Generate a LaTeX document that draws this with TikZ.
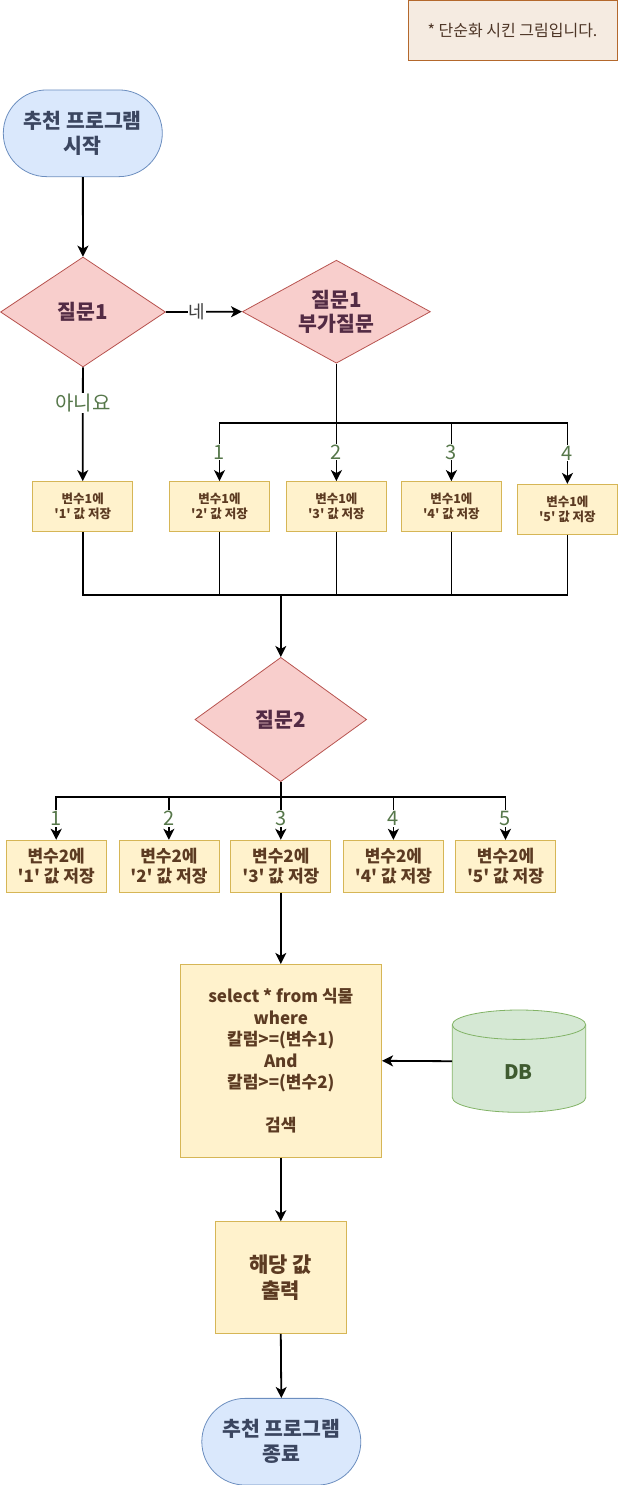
\documentclass[tikz,border=0pt]{standalone}
\usepackage{fontspec}
\newfontfamily\kr{Noto Sans CJK KR}
\usetikzlibrary{shapes.geometric,shapes.misc,arrows.meta}
\definecolor{termfill}{HTML}{DAE8FC}
\definecolor{termline}{HTML}{6C8EBF}
\definecolor{termtext}{HTML}{3B4660}
\definecolor{decfill}{HTML}{F8CECC}
\definecolor{decline}{HTML}{B85450}
\definecolor{dectext}{HTML}{532B44}
\definecolor{procfill}{HTML}{FFF2CC}
\definecolor{procline}{HTML}{D6B656}
\definecolor{proctext}{HTML}{5C3B22}
\definecolor{dbfill}{HTML}{D5E8D4}
\definecolor{dbline}{HTML}{82B366}
\definecolor{dbtext}{HTML}{3F5B30}
\definecolor{notefill}{HTML}{F5EBE1}
\definecolor{noteline}{HTML}{B4682C}
\definecolor{notetext}{HTML}{4D3526}
\definecolor{labgreen}{HTML}{56774A}
\definecolor{labgray}{HTML}{404040}
\begin{document}
\begin{tikzpicture}[x=1pt,y=-1pt,
  term/.style={rounded rectangle, draw=termline, fill=termfill, line width=0.8pt, text=termtext,
    font=\kr\bfseries\fontsize{20.5}{25}\selectfont, align=center, inner sep=0pt,
    minimum width=159pt, minimum height=86.7pt},
  dec/.style={diamond, draw=decline, fill=decfill, line width=0.8pt, text=dectext,
    font=\kr\bfseries\fontsize{20.5}{23.5}\selectfont, align=center, inner sep=0pt},
  proc/.style={rectangle, draw=procline, fill=procfill, line width=0.8pt, text=proctext,
    align=center, inner sep=0pt},
  smallbox/.style={proc, minimum width=100pt, minimum height=50pt,
    font=\kr\bfseries\fontsize{12.5}{15.5}\selectfont},
  midbox/.style={proc, minimum width=100pt, minimum height=52pt,
    font=\kr\bfseries\fontsize{17}{20.5}\selectfont},
  conn/.style={line width=1.8pt, draw=black},
  arr/.style={conn, -{Stealth[length=11pt,width=11pt,inset=3pt]}},
  lab/.style={fill=white, text=labgreen, font=\kr\fontsize{20}{22}\selectfont, inner sep=1pt}
]
\useasboundingbox (0,0) rectangle (618,1485);

% note
\node[draw=noteline, fill=notefill, line width=0.8pt, text=notetext, inner sep=0pt,
  minimum width=209pt, minimum height=60.7pt, font=\kr\fontsize{16}{18}\selectfont]
  (note) at (512.5,30.3) {* 단순화 시킨 그림입니다.};

% start
\node[term] (start) at (82.8,133.3) {추천 프로그램\\시작};

% question 1
\node[dec, minimum width=165pt, minimum height=110pt] (q1) at (83,312) {질문1};
\node[dec, shape aspect=1.8, minimum width=188pt, minimum height=103pt] (q1b) at (336.4,311.7) {질문1\\부가질문};

% variable 1 boxes
\node[smallbox] (a1) at (82.7,506.5) {변수1에\\'1' 값 저장};
\node[smallbox] (a2) at (219.5,506.5) {변수1에\\'2' 값 저장};
\node[smallbox] (a3) at (336.4,506.5) {변수1에\\'3' 값 저장};
\node[smallbox] (a4) at (451.4,506.5) {변수1에\\'4' 값 저장};
\node[smallbox] (a5) at (567.4,509.3) {변수1에\\'5' 값 저장};

% question 2
\node[dec, minimum width=171.7pt, minimum height=124.3pt] (q2) at (280.8,719.5) {질문2};

% variable 2 boxes
\node[midbox] (b1) at (56.2,866.2) {변수2에\\'1' 값 저장};
\node[midbox] (b2) at (168.9,866.2) {변수2에\\'2' 값 저장};
\node[midbox] (b3) at (280.8,866.2) {변수2에\\'3' 값 저장};
\node[midbox] (b4) at (393.4,866.2) {변수2에\\'4' 값 저장};
\node[midbox] (b5) at (505.5,866.2) {변수2에\\'5' 값 저장};

% select box
\node[proc, minimum width=201.7pt, minimum height=193pt,
  font=\kr\bfseries\fontsize{17}{21.5}\selectfont]
  (sel) at (280.8,1060.8) {select * from 식물\\where\\칼럼>=(변수1)\\And\\칼럼>=(변수2)\\[21.5pt]검색};

% DB cylinder
\node[minimum width=133.4pt, minimum height=102.3pt, inner sep=0pt] (db) at (519,1061.2) {};
\path[fill=dbfill, draw=dbline, line width=0.8pt]
  (452.3,1024.7) -- (452.3,1097.6)
  .. controls (452.3,1105.7) and (482.2,1112.3) .. (519,1112.3)
  .. controls (555.8,1112.3) and (585.7,1105.7) .. (585.7,1097.6)
  -- (585.7,1024.7)
  .. controls (585.7,1016.6) and (555.8,1010) .. (519,1010)
  .. controls (482.2,1010) and (452.3,1016.6) .. (452.3,1024.7) -- cycle;
\draw[dbline, line width=0.8pt]
  (452.3,1024.7) .. controls (452.3,1032.8) and (482.2,1039.4) .. (519,1039.4)
  .. controls (555.8,1039.4) and (585.7,1032.8) .. (585.7,1024.7);
\node[text=dbtext, font=\kr\bfseries\fontsize{20}{22}\selectfont] (dbl) at (518.3,1071.7) {DB};

% output and end
\node[proc, minimum width=130.3pt, minimum height=111.7pt,
  font=\kr\bfseries\fontsize{21}{25.5}\selectfont] (out) at (280.8,1277.5) {해당 값\\출력};
\node[term] (end) at (281.3,1441.7) {추천 프로그램\\종료};

% connectors
\draw[arr] (start) -- (q1);
\draw[arr] (q1.east) -- node[pos=0.41, fill=white, text=labgray, inner sep=1pt,
  font=\kr\fontsize{18}{20}\selectfont] {네} (q1b.west);
\draw[arr] (q1) -- node[lab, pos=0.31] {아니요} (a1);

\coordinate (bus1) at (336.4,422.7);
\draw[conn] (q1b.south) -- (bus1);
\draw[arr] (bus1) -| node[lab, pos=0.75] {1} (a2.north);
\draw[arr] (bus1) -- node[lab, pos=0.5] {2} (a3.north);
\draw[arr] (bus1) -| node[lab, pos=0.75] {3} (a4.north);
\draw[arr] (bus1) -| node[lab, pos=0.75] {4} (a5.north);

\coordinate (m1) at (280.8,595);
\draw[conn] (a1.south) |- (m1);
\draw[conn] (a2.south) |- (m1);
\draw[conn] (a3.south) |- (m1);
\draw[conn] (a4.south) |- (m1);
\draw[conn] (a5.south) |- (m1);
\draw[arr] (m1) -- (q2.north);

\coordinate (bus2) at (280.8,797.3);
\draw[conn] (q2.south) -- (bus2);
\draw[arr] (bus2) -| node[lab, pos=0.75] {1} (b1.north);
\draw[arr] (bus2) -| node[lab, pos=0.75] {2} (b2.north);
\draw[arr] (bus2) -- node[lab, pos=0.5] {3} (b3.north);
\draw[arr] (bus2) -| node[lab, pos=0.75] {4} (b4.north);
\draw[arr] (bus2) -| node[lab, pos=0.75] {5} (b5.north);

\draw[arr] (b3.south) -- (sel.north);
\draw[arr] (db.west) -- (sel.east);
\draw[arr] (sel.south) -- (out.north);
\draw[arr] (out.south) -- (end.north);
\end{tikzpicture}
\end{document}
